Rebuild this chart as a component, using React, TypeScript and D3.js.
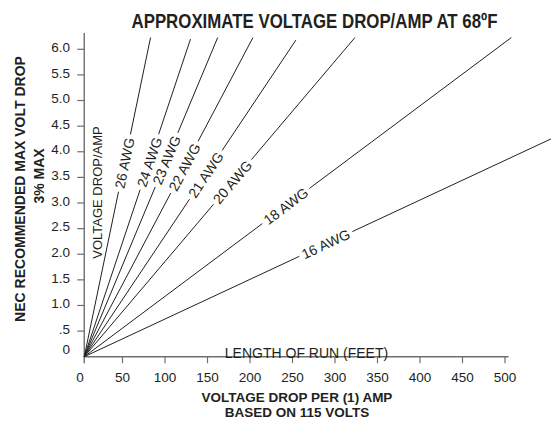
import * as d3 from 'd3'
import React, { useRef, useEffect } from 'react'

// wire gauges, where each line ends (feet, volts) and where its label sits (volts)
const gauges = ['26 AWG', '24 AWG', '23 AWG', '22 AWG', '21 AWG', '20 AWG', '18 AWG', '16 AWG']
const endFeet = [83, 130, 162, 203.5, 254, 323.5, 507.5, 554]
const endVolts = [6.23, 6.2, 6.23, 6.23, 6.18, 6.23, 6.23, 4.25]
const labelVolts = [3.78, 3.8, 3.84, 3.7, 3.55, 3.41, 2.94, 2.2]

const xTicks = [0, 50, 100, 150, 200, 250, 300, 350, 400, 450, 500]
const yTicks = [0, 0.5, 1, 1.5, 2, 2.5, 3, 3.5, 4, 4.5, 5, 5.5, 6]
const yTickLabels = ['0', '.5', '1.0', '1.5', '2.0', '2.5', '3.0', '3.5', '4.0', '4.5', '5.0', '5.5', '6.0']

// the vertical axis crosses the run axis at about 5 ft on the printed scale
const axisFeet = 5

const App = () => {
  const ref = useRef(null)

  useEffect(() => {
    draw()
  }, [])

  const draw = () => {
    const width = 551
    const height = 421
    const font = 'Liberation Sans, Arial, Helvetica, sans-serif'
    const ink = '#231f20'
    const axisColor = '#6d6e70'

    const x = d3.scaleLinear().domain([0, 500]).range([80, 505])
    const y = d3.scaleLinear().domain([0, 6]).range([356.7, 49.3])

    const svg = d3.select(ref.current).attr('width', width).attr('height', height)
    svg.selectAll('*').remove()

    const x0 = x(axisFeet)
    const y0 = y(0)

    // title
    svg
      .append('text')
      .attr('x', 314.5)
      .attr('y', 28)
      .attr('text-anchor', 'middle')
      .attr('font-family', 'Liberation Sans Narrow, ' + font)
      .attr('font-weight', 'bold')
      .attr('font-size', 20)
      .attr('textLength', 366)
      .attr('lengthAdjust', 'spacingAndGlyphs')
      .attr('fill', ink)
      .text('APPROXIMATE VOLTAGE DROP/AMP AT 68ºF')

    // y axis
    svg
      .append('line')
      .attr('x1', x0)
      .attr('x2', x0)
      .attr('y1', 33)
      .attr('y2', y0 + 6.5)
      .attr('stroke', axisColor)
      .attr('stroke-width', 1.4)

    const yt = svg.append('g')
    yt.selectAll('line')
      .data(yTicks.filter((d) => d > 0))
      .enter()
      .append('line')
      .attr('x1', x0 - 7)
      .attr('x2', x0)
      .attr('y1', (d) => y(d))
      .attr('y2', (d) => y(d))
      .attr('stroke', axisColor)
      .attr('stroke-width', 1.2)

    yt.selectAll('text')
      .data(yTicks)
      .enter()
      .append('text')
      .attr('x', 70)
      .attr('y', (d) => (d === 0 ? y(d) - 7 : y(d) - 2))
      .attr('dy', '0.35em')
      .attr('text-anchor', 'end')
      .attr('font-family', font)
      .attr('font-size', 13.5)
      .attr('fill', ink)
      .text((d, i) => yTickLabels[i])

    // x axis
    svg
      .append('line')
      .attr('x1', x0)
      .attr('x2', 508.5)
      .attr('y1', y0)
      .attr('y2', y0)
      .attr('stroke', axisColor)
      .attr('stroke-width', 1.4)

    const xt = svg.append('g')
    xt.selectAll('line')
      .data(xTicks.filter((d) => d > 0))
      .enter()
      .append('line')
      .attr('x1', (d) => x(d))
      .attr('x2', (d) => x(d))
      .attr('y1', y0)
      .attr('y2', y0 + 6.5)
      .attr('stroke', axisColor)
      .attr('stroke-width', 1.2)

    xt.selectAll('text')
      .data(xTicks)
      .enter()
      .append('text')
      .attr('x', (d) => x(d))
      .attr('y', 381.5)
      .attr('text-anchor', 'middle')
      .attr('font-family', font)
      .attr('font-size', 13.5)
      .attr('fill', ink)
      .text((d) => String(d))

    // axis titles
    const yTitle = svg.append('g').attr('font-family', font).attr('font-weight', 'bold').attr('fill', ink)
    yTitle
      .append('text')
      .attr('transform', 'translate(25,189) rotate(-90)')
      .attr('text-anchor', 'middle')
      .attr('font-size', 14)
      .text('NEC RECOMMENDED MAX VOLT DROP')
    yTitle
      .append('text')
      .attr('transform', 'translate(43.5,176) rotate(-90)')
      .attr('text-anchor', 'middle')
      .attr('font-size', 14)
      .text('3% MAX')

    svg
      .append('text')
      .attr('transform', 'translate(101.5,192.5) rotate(-90)')
      .attr('text-anchor', 'middle')
      .attr('font-family', font)
      .attr('font-size', 13)
      .attr('fill', ink)
      .text('VOLTAGE DROP/AMP')

    svg
      .append('text')
      .attr('x', 306.5)
      .attr('y', 357.5)
      .attr('text-anchor', 'middle')
      .attr('font-family', font)
      .attr('font-size', 14)
      .attr('fill', ink)
      .text('LENGTH OF RUN (FEET)')

    const xTitle = svg
      .append('g')
      .attr('font-family', font)
      .attr('font-weight', 'bold')
      .attr('font-size', 13.5)
      .attr('fill', ink)
      .attr('text-anchor', 'middle')
    xTitle.append('text').attr('x', 297).attr('y', 401.5).text('VOLTAGE DROP PER (1) AMP')
    xTitle.append('text').attr('x', 297).attr('y', 417.3).text('BASED ON 115 VOLTS')

    // gauge lines, each broken where its label sits
    const lines = svg.append('g')
    gauges.forEach((name, i) => {
      const x1 = x(endFeet[i])
      const y1 = y(endVolts[i])
      const dx = x1 - x0
      const dy = y1 - y0
      const len = Math.sqrt(dx * dx + dy * dy)
      const ux = dx / len
      const uy = dy / len
      const t = labelVolts[i] / endVolts[i]
      const cx = x0 + dx * t
      const cy = y0 + dy * t
      const angle = (Math.atan2(dy, dx) * 180) / Math.PI

      const label = lines
        .append('text')
        .attr('transform', `translate(${cx},${cy}) rotate(${angle})`)
        .attr('text-anchor', 'middle')
        .attr('dy', '0.36em')
        .attr('font-family', font)
        .attr('font-size', 14)
        .attr('fill', ink)
        .text(name)

      const node = label.node() as SVGTextElement
      const half = node.getComputedTextLength() / 2 + 3.5

      const segs = [
        [x0, y0, cx - ux * half, cy - uy * half],
        [cx + ux * half, cy + uy * half, x1, y1],
      ]
      segs.forEach((s) => {
        lines
          .append('line')
          .attr('x1', s[0])
          .attr('y1', s[1])
          .attr('x2', s[2])
          .attr('y2', s[3])
          .attr('stroke', ink)
          .attr('stroke-width', 1)
      })
    })
  }

  return (
    <div id="graph">
      <svg ref={ref} style={{ position: 'absolute', left: 0, top: 0, background: '#fff' }} />
    </div>
  )
}

export default App
